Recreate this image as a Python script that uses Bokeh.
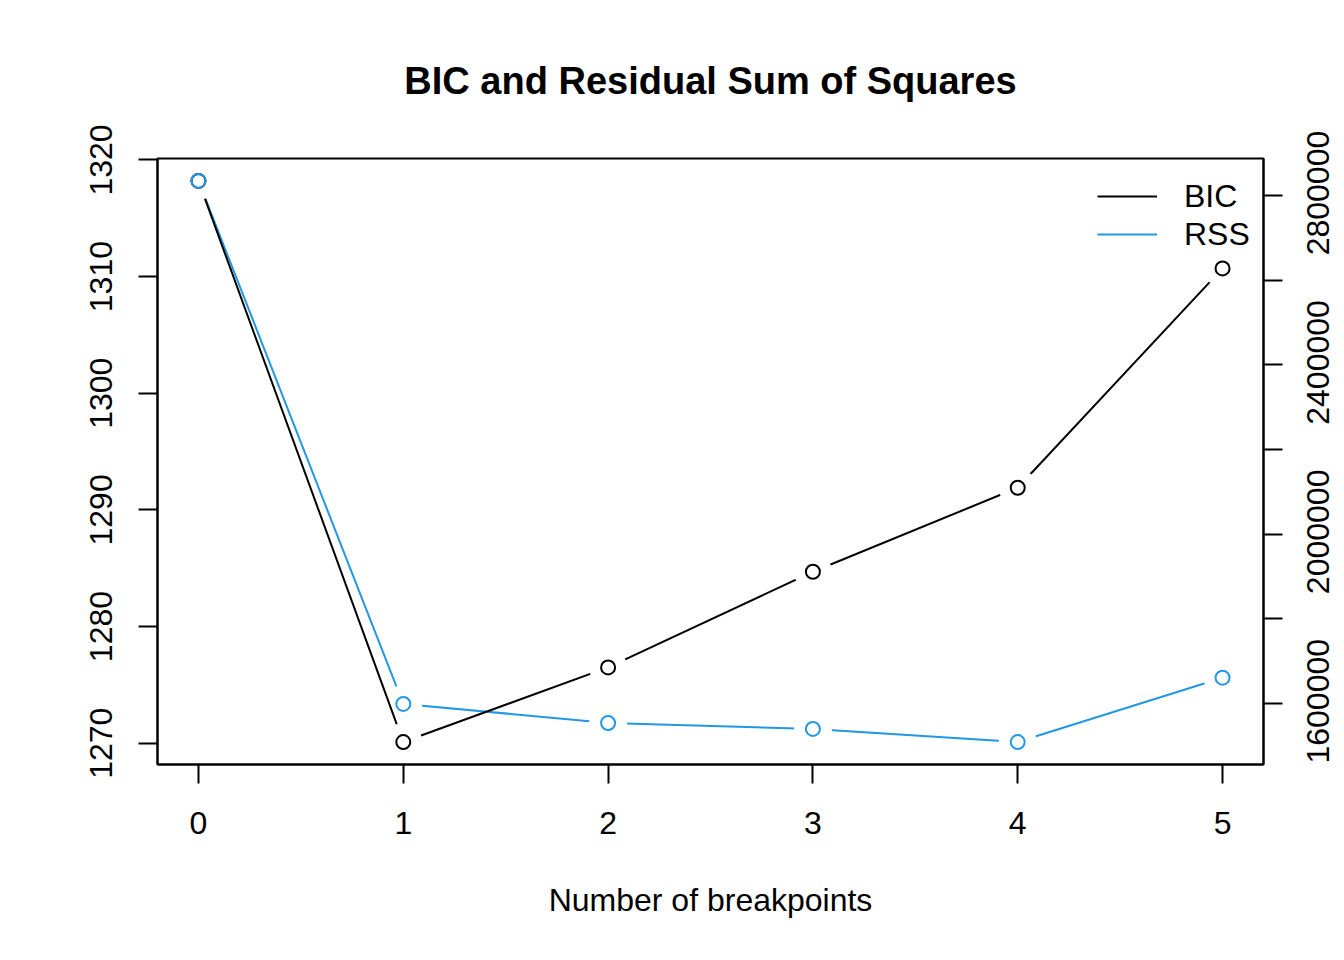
import math
from bokeh.plotting import figure
from bokeh.models import (Range1d, LinearAxis, FixedTicker, Legend, LegendItem,
                          ColumnDataSource)
from bokeh.embed import file_html
from bokeh.resources import INLINE

# ---- data ----
breakpoints = [0, 1, 2, 3, 4, 5]
bic = [1318.2, 1270.1, 1276.5, 1284.7, 1291.9, 1310.7]
rss = [2834000, 1599000, 1554000, 1540000, 1509000, 1661000]

bic_ticks = [1270, 1280, 1290, 1300, 1310, 1320]
x_ticks = [0, 1, 2, 3, 4, 5]
rss_major_ticks = [1600000, 2000000, 2400000, 2800000]
rss_minor_ticks = [1800000, 2200000, 2600000]
rss_tick_labels = ["1600000", "2000000", "2400000", "2800000"]

title_text = "BIC and Residual Sum of Squares"
x_label = "Number of breakpoints"

BLUE = "#2297E6"
FONT = "Liberation Sans"

W, H = 1344, 960
B_LEFT, B_RIGHT, B_TOP, B_BOTTOM = 157, 81, 158, 196

# ---- ranges (R style: data range extended by 4%) ----
xmin, xmax = min(breakpoints), max(breakpoints)
xpad = 0.04 * (xmax - xmin)
bmin, bmax = min(bic), max(bic)
bpad = 0.04 * (bmax - bmin)
rmin, rmax = min(rss), max(rss)
# RSS is rescaled onto the BIC range
slope = (rmax - rmin) / (bmax - bmin)
b_lo, b_hi = bmin - bpad, bmax + bpad
r_lo = rmin + (b_lo - bmin) * slope
r_hi = rmin + (b_hi - bmin) * slope
x_lo, x_hi = xmin - xpad, xmax + xpad

p = figure(width=W, height=H, output_backend="svg", toolbar_location=None,
           x_range=Range1d(x_lo, x_hi),
           y_range=Range1d(b_lo, b_hi),
           min_border_left=B_LEFT, min_border_right=B_RIGHT,
           min_border_top=B_TOP, min_border_bottom=B_BOTTOM,
           title=title_text)
p.extra_y_ranges = {"rss": Range1d(r_lo, r_hi)}

p.grid.visible = False
p.outline_line_color = "black"
p.outline_line_width = 2
p.background_fill_color = "white"
p.border_fill_color = "white"

p.title.text_font = FONT
p.title.text_font_size = "38px"
p.title.text_font_style = "bold"
p.title.text_color = "black"
p.title.align = "center"
p.title.standoff = 114

def style_axis(ax):
    ax.axis_line_color = "black"
    ax.axis_line_width = 2
    ax.major_tick_in = 0
    ax.major_tick_out = 19
    ax.major_tick_line_width = 2
    ax.major_tick_line_color = "black"
    ax.minor_tick_in = 0
    ax.minor_tick_out = 19
    ax.minor_tick_line_width = 2
    ax.minor_tick_line_color = "black"
    ax.major_label_text_font = FONT
    ax.major_label_text_font_size = "32px"
    ax.major_label_text_color = "black"

xa = p.xaxis[0]
style_axis(xa)
xa.ticker = FixedTicker(ticks=x_ticks)
xa.minor_tick_line_color = None
xa.major_label_standoff = 28
xa.axis_label = x_label
xa.axis_label_text_font = FONT
xa.axis_label_text_font_size = "32px"
xa.axis_label_text_font_style = "normal"
xa.axis_label_text_color = "black"
xa.axis_label_standoff = 45

ya = p.yaxis[0]
style_axis(ya)
ya.ticker = FixedTicker(ticks=bic_ticks)
ya.minor_tick_line_color = None
ya.major_label_orientation = "vertical"
ya.major_label_standoff = 26

# right axis: all tick marks drawn as (full-length) minor ticks; the labels,
# which Bokeh starts at their anchor when rotated to read upwards, are anchored
# half a label length below their tick so that they appear centred on it.
frame_h = H - B_TOP - B_BOTTOM
rss_per_px = (r_hi - r_lo) / frame_h
half_label_px = 60
label_anchor = [int(round(t - half_label_px * rss_per_px)) for t in rss_major_ticks]

ra = LinearAxis(y_range_name="rss",
                ticker=FixedTicker(ticks=label_anchor,
                                   minor_ticks=sorted(rss_major_ticks + rss_minor_ticks)))
style_axis(ra)
ra.major_tick_line_color = None
ra.major_label_orientation = math.pi / 2
ra.major_label_standoff = 36
ra.major_label_text_line_height = 0.6
ra.major_label_overrides = {a: s for a, s in zip(label_anchor, rss_tick_labels)}
p.add_layout(ra, "right")

bsrc = ColumnDataSource(dict(x=breakpoints, y=bic))
rsrc = ColumnDataSource(dict(x=breakpoints, y=rss))

# type = "b": each line is broken around its own points (white masks drawn
# right after its own line, before the other series' line)
rss_line = p.line("x", "y", source=rsrc, line_color=BLUE, line_width=2, y_range_name="rss")
p.scatter("x", "y", source=rsrc, size=38, fill_color="white", line_color=None, y_range_name="rss")

bic_line = p.line("x", "y", source=bsrc, line_color="black", line_width=2)
p.scatter("x", "y", source=bsrc, size=38, fill_color="white", line_color=None)

p.scatter("x", "y", source=bsrc, size=14, fill_color=None, line_color="black", line_width=2)
p.scatter("x", "y", source=rsrc, size=14, fill_color=None, line_color=BLUE, line_width=2,
          y_range_name="rss")

legend = Legend(items=[LegendItem(label="BIC", renderers=[bic_line]),
                       LegendItem(label="RSS", renderers=[rss_line])],
                location=(940, 511))
legend.background_fill_alpha = 0
legend.border_line_color = None
legend.label_text_font = FONT
legend.label_text_font_size = "32px"
legend.label_text_color = "black"
legend.glyph_width = 60
legend.glyph_height = 38
legend.label_height = 38
legend.label_standoff = 27
legend.spacing = 0
legend.padding = 0
legend.margin = 0
p.add_layout(legend)

open("out.html", "w").write(file_html(p, INLINE))
